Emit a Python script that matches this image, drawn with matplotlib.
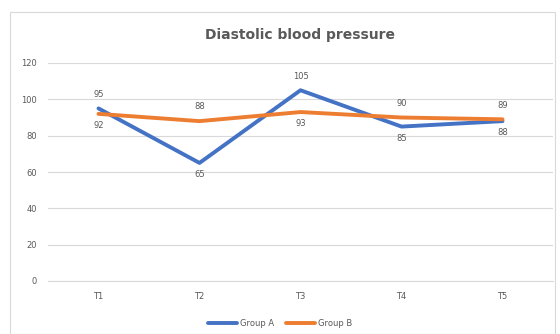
import matplotlib.pyplot as plt
from matplotlib.patches import Rectangle

# Data
times = ["T1", "T2", "T3", "T4", "T5"]
group_a = [95, 65, 105, 85, 88]
group_b = [92, 88, 93, 90, 89]
y_ticks = [0, 20, 40, 60, 80, 100, 120]

BLUE = "#4472C4"
ORANGE = "#ED7D31"
GRAY = "#595959"

fig = plt.figure(figsize=(5.6, 3.34), dpi=100)
fig.patch.set_facecolor("white")

# chart-area border like Excel
fig.patches.append(Rectangle((10 / 560, 0.0), 545 / 560, 1 - 12 / 334,
                             transform=fig.transFigure, fill=False,
                             edgecolor="#D9D9D9", linewidth=0.8))

ax = fig.add_axes([48 / 560, 1 - 281 / 334, 505 / 560, 218 / 334])
x = list(range(len(times)))

ax.plot(x, group_a, color=BLUE, linewidth=2.8, label="Group A", solid_capstyle="round", zorder=3)
ax.plot(x, group_b, color=ORANGE, linewidth=2.8, label="Group B", solid_capstyle="round", zorder=4)

# value labels: higher value above, lower below
for i, (a, b) in enumerate(zip(group_a, group_b)):
    for v, other in ((a, b), (b, a)):
        if v >= other:
            ax.annotate(str(v), (i, v), xytext=(0, 7), textcoords="offset points",
                        ha="center", va="bottom", fontsize=6, color=GRAY)
        else:
            ax.annotate(str(v), (i, v), xytext=(0, -5), textcoords="offset points",
                        ha="center", va="top", fontsize=6, color=GRAY)

ax.set_xlim(-0.5, len(times) - 0.5)
ax.set_ylim(0, 120)
ax.set_yticks(y_ticks)
ax.set_xticks(x)
ax.set_xticklabels(times)
ax.tick_params(axis="both", length=0, labelsize=6, colors=GRAY, pad=8)
ax.grid(axis="y", color="#D9D9D9", linewidth=0.8)
ax.set_axisbelow(True)
for s in ax.spines.values():
    s.set_visible(False)
ax.spines["bottom"].set_visible(True)
ax.spines["bottom"].set_color("#D9D9D9")

fig.text(300 / 560, 1 - 35 / 334, "Diastolic blood pressure", ha="center", va="center",
         fontsize=10, fontweight="bold", color=GRAY)

fig.legend(loc="center", bbox_to_anchor=(0.5, 1 - 323 / 334), ncol=2, frameon=False,
           fontsize=6, handlelength=3.5, columnspacing=1.5, handletextpad=0.3,
           labelcolor=GRAY)

fig.savefig("out.png", dpi=100)
